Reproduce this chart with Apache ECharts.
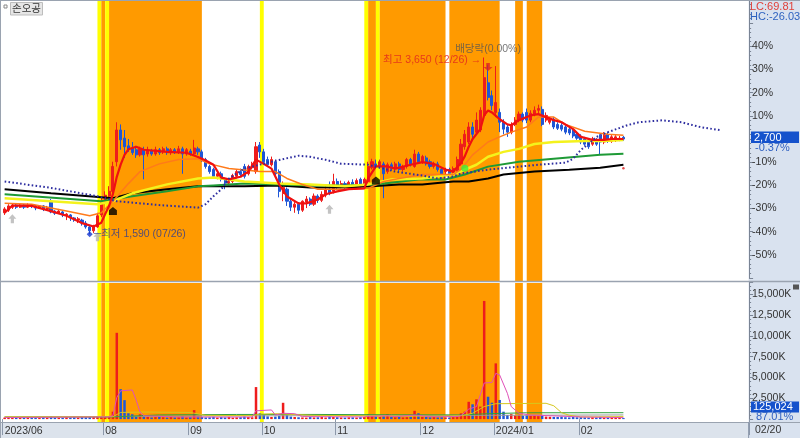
<!DOCTYPE html>
<html><head><meta charset="utf-8">
<script src="https://cdn.jsdelivr.net/npm/echarts/dist/echarts.min.js"></script>
<style>html,body{margin:0;padding:0;background:#fff}#c{width:800px;height:438px}</style>
</head><body><div id="c"></div>
<script>
// ---------- DATA ----------
const holidays = ['2023-08-15','2023-09-28','2023-09-29','2023-10-02','2023-10-03','2023-10-09','2023-12-25','2023-12-29','2024-01-01','2024-02-09','2024-02-12'];
const firstDay = '2023-06-26', lastDay = '2024-02-20';
const futureSlots = 32;
const monthTicks = [[0,'2023/06'],[26,'08'],[48,'09'],[67,'10'],[86,'11'],[108,'12'],[127,'2024/01'],[149,'02']];
const basePrice = 2700;
// [open, close, low, high]
const candles = [
[1840,1885,1815,1905],[1870,1920,1850,1940],[1905,1930,1885,1950],[1930,1905,1885,1950],[1905,1930,1895,1940],
[1930,1905,1885,1940],[1905,1930,1895,1950],[1930,1920,1895,1940],[1920,1895,1870,1930],[1895,1920,1885,1930],
[1920,1885,1860,1930],[1885,1905,1870,1920],[1975,1850,1835,2000],[1860,1835,1815,1870],[1835,1860,1825,1885],
[1850,1815,1790,1860],[1815,1825,1755,1835],[1815,1780,1745,1825],[1780,1755,1735,1790],[1755,1770,1720,1790],
[1755,1720,1690,1770],[1720,1675,1655,1745],[1675,1630,1590,1700],[1630,1675,1605,1700],[1675,1805,1665,1840],
[1815,1975,1790,2010],[1975,2045,1965,2090],[2035,2090,2010,2150],[2090,2380,2065,2435],[2435,2805,2380,2895],
[2805,2690,2575,2870],[2710,2610,2480,2805],[2620,2575,2550,2700],[2595,2540,2515,2665],[2575,2515,2480,2620],
[2515,2585,2495,2610],[2575,2515,2230,2610],[2525,2575,2495,2610],[2560,2525,2505,2585],[2525,2575,2505,2610],
[2575,2540,2515,2595],[2550,2585,2525,2610],[2585,2540,2515,2610],[2540,2575,2515,2595],[2575,2550,2525,2595],
[2550,2585,2525,2620],[2585,2525,2295,2610],[2525,2575,2505,2595],[2560,2525,2505,2585],[2525,2595,2505,2690],
[2585,2550,2515,2610],[2550,2460,2435,2575],[2460,2380,2355,2480],[2380,2320,2295,2400],[2345,2265,2240,2365],
[2265,2295,2230,2320],[2295,2230,2205,2320],[2230,2185,2115,2250],[2185,2205,2160,2240],[2205,2275,2185,2295],
[2265,2320,2240,2345],[2320,2285,2265,2355],[2380,2265,2240,2410],[2295,2380,2275,2400],[2365,2410,2345,2435],
[2320,2610,2295,2665],[2630,2550,2480,2665],[2550,2435,2400,2585],[2460,2400,2380,2495],[2400,2460,2380,2495],
[2435,2295,2275,2460],[2320,2090,2020,2345],[2065,2135,1975,2205],[2115,1975,1920,2135],[1975,1905,1860,2000],
[1905,1940,1840,1965],[1940,1870,1825,1965],[1870,1975,1850,1985],[1965,2000,1895,2035],[2000,1940,1920,2020],
[1940,2035,1920,2065],[2035,1985,1955,2055],[1985,2055,1965,2090],[2045,2115,2020,2150],[2115,2065,2045,2205],
[2090,2205,2065,2295],[2205,2150,2115,2240],[2150,2180,2125,2215],[2180,2135,2115,2205],[2135,2195,2115,2215],
[2195,2160,2135,2230],[2160,2215,2135,2240],[2230,2160,2135,2250],[2170,2230,2150,2250],[2205,2380,2180,2435],
[2365,2435,2345,2470],[2410,2380,2355,2460],[2380,2435,2355,2460],[2410,2295,2010,2435],[2320,2400,2295,2425],
[2400,2355,2330,2425],[2355,2410,2330,2435],[2410,2345,2320,2435],[2345,2380,2320,2400],[2380,2460,2355,2480],
[2460,2400,2380,2480],[2380,2525,2365,2575],[2525,2435,2410,2550],[2435,2495,2410,2515],[2480,2410,2390,2505],
[2435,2380,2355,2460],[2380,2410,2355,2435],[2410,2345,2320,2435],[2345,2295,2240,2365],[2320,2345,2285,2365],
[2345,2295,2275,2365],[2295,2355,2275,2380],[2320,2460,2295,2495],[2410,2640,2390,2700],[2610,2755,2575,2805],
[2665,2840,2640,2895],[2840,2755,2710,2895],[2780,2920,2755,3010],[2805,3035,2780,3070],[2975,3415,2955,3650],
[3355,3185,3150,3565],[3205,3090,3035,3265],[3010,3125,2955,3550],[3010,2895,2780,3055],[2895,2815,2755,2930],
[2840,2780,2725,2870],[2780,2870,2755,2895],[2870,2920,2850,2955],[2920,2990,2895,3020],[2990,2920,2895,3010],
[3010,2920,2885,3055],[2920,3000,2895,3035],[2990,3035,2965,3080],[3035,3055,3000,3100],[3045,2870,2850,3080],
[2920,2975,2895,3010],[2895,2930,2870,2955],[2930,2840,2815,2955],[2870,2825,2805,2895],[2860,2815,2790,2885],
[2840,2780,2755,2860],[2815,2770,2745,2840],[2805,2735,2710,2825],[2755,2710,2690,2780],[2735,2665,2640,2755],
[2700,2640,2620,2725],[2675,2610,2585,2700],[2640,2700,2620,2725],[2690,2640,2620,2710],[2735,2665,2525,2755],
[2665,2745,2640,2780],[2755,2675,2655,2780],[2675,2725,2655,2745],[2690,2725,2665,2745],[2700,2710,2675,2735],
[2720,2700,2680,2735]
];
// volume in thousands of shares
const volumes = [
180,220,160,200,150,170,230,190,210,160,250,200,370,210,180,160,250,200,230,190,260,240,300,260,350,
370,300,290,890,10370,3600,2280,700,580,290,580,300,260,200,240,310,220,180,260,200,230,330,210,240,
1080,300,250,200,220,280,190,240,200,260,180,210,230,300,250,220,3850,700,500,330,260,300,400,1960,490,
300,250,220,200,180,240,200,220,260,190,300,250,230,200,180,220,210,190,230,260,580,400,300,250,350,610,
280,220,250,200,230,260,1000,700,300,260,220,250,200,230,210,190,240,350,700,890,2080,1780,2380,1500,
14200,2690,1970,6700,2300,890,490,600,450,520,400,450,380,420,350,500,300,280,260,250,300,230,200,260,
220,240,210,190,230,200,260,180,170,200,150,140,125
];
// moving averages: [slot, price]
const ma5 = [[0,1840],[2,1925],[7,1920],[12,1860],[16,1805],[20,1720],[23,1680],[25,1725],[26,1826],[27,1918],[28,2059],[29,2259],[30,2402],[31,2515],[32,2580],[34,2610],[36,2575],[42,2550],[47,2540],[50,2490],[52,2450],[54,2400],[56,2250],[58,2230],[61,2260],[63,2320],[65,2460],[67,2410],[69,2355],[71,2170],[73,2030],[76,1950],[78,1950],[81,1995],[83,2056],[86,2090],[89,2115],[93,2125],[94,2240],[96,2380],[99,2380],[101,2355],[105,2400],[108,2430],[111,2410],[114,2345],[116,2320],[118,2420],[119,2500],[120,2610],[121,2700],[123,2815],[124,2976],[125,3033],[126,3010],[128,2930],[130,2870],[131,2860],[133,2920],[136,2975],[138,2990],[140,2955],[142,2920],[144,2895],[147,2815],[149,2725],[152,2690],[155,2690],[157,2700],[160,2700]];
const ma20 = [[0,1950],[7,1940],[16,1860],[22,1805],[25,1840],[28,1975],[32,2180],[35,2320],[40,2410],[45,2460],[50,2470],[53,2410],[58,2355],[66,2320],[70,2320],[73,2240],[77,2170],[81,2115],[89,2115],[94,2125],[98,2205],[102,2240],[108,2285],[116,2285],[118,2345],[121,2515],[125,2665],[128,2725],[131,2780],[135,2840],[138,2955],[142,2955],[145,2870],[150,2790],[156,2755],[160,2745]];
const ma60 = [[0,2010],[12,1975],[24,1940],[28,1975],[33,2067],[42,2171],[50,2240],[54,2250],[62,2205],[71,2182],[79,2171],[88,2148],[94,2171],[100,2228],[108,2240],[116,2286],[122,2400],[125,2493],[129,2550],[133,2585],[137,2642],[142,2665],[150,2677],[155,2677],[160,2688]];
const ma120 = [[0,2056],[25,1975],[28,1998],[33,2033],[42,2090],[50,2148],[54,2159],[62,2182],[71,2171],[79,2159],[88,2159],[96,2171],[107,2228],[114,2228],[119,2286],[125,2378],[133,2435],[142,2470],[148,2493],[154,2516],[160,2527]];
const ma240 = [[0,2113],[12,2067],[25,2021],[28,2010],[33,2067],[42,2113],[50,2148],[62,2148],[71,2159],[79,2136],[88,2136],[95,2148],[102,2171],[108,2171],[116,2205],[120,2205],[125,2240],[129,2286],[137,2320],[146,2343],[154,2366],[160,2400]];
const leadSpan = [[0,2205],[12,2130],[24,2033],[29,1975],[40,1930],[50,1900],[52,1941],[54,2033],[56,2113],[58,2240],[62,2355],[69,2436],[76,2505],[79,2493],[83,2458],[87,2412],[94,2400],[101,2320],[108,2274],[112,2240],[116,2263],[118,2297],[125,2343],[133,2378],[138,2400],[145,2424],[147,2470],[149,2573],[151,2642],[153,2723],[156,2780],[161,2861],[164,2895],[170,2918],[175,2895],[180,2838],[185,2803]];
const volMa5 = [[0,200],[27,260],[28,420],[29,2600],[30,3400],[33,3500],[34,2300],[35,850],[36,400],[45,250],[64,250],[65,1000],[69,1100],[70,500],[72,700],[75,650],[77,300],[93,260],[94,330],[99,400],[101,300],[106,480],[108,400],[110,280],[117,300],[118,420],[119,800],[120,1200],[122,1500],[124,4340],[126,4400],[127,5500],[128,5300],[130,3100],[131,1500],[133,700],[136,480],[140,420],[149,260],[160,180]];
const volMa20 = [[0,280],[28,290],[30,800],[36,850],[48,800],[52,450],[64,420],[66,600],[70,650],[80,450],[110,350],[118,400],[121,700],[124,1500],[127,1850],[140,1900],[142,1600],[144,770],[146,460],[149,260],[160,300]];
const volMa60 = [[0,250],[28,260],[40,500],[60,560],[80,560],[100,520],[118,500],[125,650],[135,760],[160,770]];
const volMa120 = [[0,230],[50,380],[100,430],[130,460],[160,500]];
// highlighted signal periods [fromSlot, toSlot, kind]
const signalBands = [[24,25,'Y'],[25,26,'O'],[26,27,'Y'],[27,51,'O'],[66,67,'Y'],[93,94,'Y'],[94,96,'O'],[96,97,'Y'],[97,114,'O'],[115,128,'O'],[132,134,'O'],[135,139,'O']];
const grayArrows = [[2,1770],[24,1560],[84,1880]];
const blackMarks = [[28,1860],[96,2215]];
const greenMarks = [[119,2358]];
const lowPoint = [[22,1590]];
const highPoint = [[124,3650]];
const exDividend = [[125,3540]];
const redDot = [[160,2358]];

// ---------- BUILD ----------
const cats = [];
(function(){
  let d = new Date(firstDay+'T00:00:00Z'); const end = new Date(lastDay+'T00:00:00Z');
  while (d <= end) {
    const s = d.toISOString().slice(0,10); const wd = d.getUTCDay();
    if (wd !== 0 && wd !== 6 && holidays.indexOf(s) < 0) cats.push(s);
    d = new Date(d.getTime()+86400000);
  }
  for (let i=1;i<=futureSlots;i++) cats.push('f'+i);
})();
const tickMap = {}; monthTicks.forEach(t => tickMap[t[0]] = t[1]);
const FONT = "'Liberation Sans',Arial,sans-serif";
const KFONT = "'Liberation Sans','Noto Sans CJK KR',sans-serif";
const UP = '#EE1C1C', DOWN = '#1F56D6';
const GL = 2.7, GR = 50.9;

const bandColor = {O:'#FF9A00', Y:'#FFFF00'};
const bandAreas = signalBands.map(b => [{xAxis:b[0], itemStyle:{color:bandColor[b[2]], opacity:1}}, {xAxis:b[1]}]);

function hiddenX(g){ return {type:'category', gridIndex:g, data:cats, boundaryGap:true, show:false}; }
function lineS(name, data, color, width, extra){
  return Object.assign({name, type:'line', xAxisIndex:0, yAxisIndex:0, data, showSymbol:false, symbol:'none',
    lineStyle:{color, width}, z:6, silent:true}, extra||{});
}
function volLine(data, color){
  return {type:'line', xAxisIndex:1, yAxisIndex:1, data, showSymbol:false, symbol:'none', lineStyle:{color, width:1}, z:6, silent:true};
}

const chart = echarts.init(document.getElementById('c'), null, {renderer:'canvas'});
const option = {
  animation:false,
  backgroundColor:'#ffffff',
  grid:[
    {left:GL, right:GR, top:-3.5, height:281.5},
    {left:GL, right:GR, top:281.8, height:139.9},
    {left:GL, right:GR, top:281.8, height:137.3},
    {left:GL, right:GR, top:0, height:281},
    {left:GL, right:GR, top:283, height:139}
  ],
  xAxis:[
    hiddenX(0),
    {type:'category', gridIndex:1, data:cats, boundaryGap:true,
     axisLine:{show:false},
     axisTick:{show:true, interval:(i)=> tickMap[i]!==undefined, length:16, lineStyle:{color:'#8C98AA'}},
     axisLabel:{show:true, interval:(i)=> tickMap[i]!==undefined, formatter:(v,i)=> tickMap[i]||'', align:'left', margin:4,
       color:'#333', fontSize:10.5, fontFamily:FONT}},
    hiddenX(2), hiddenX(3), hiddenX(4)
  ],
  yAxis:[
    {type:'value', gridIndex:0, position:'right', min:basePrice*0.4, max:basePrice*1.6, interval:basePrice*0.1,
     splitLine:{show:false}, axisLine:{show:true, lineStyle:{color:'#7A8494'}},
     axisTick:{show:true, length:4, lineStyle:{color:'#7A8494'}},
     minorTick:{show:true, splitNumber:5, length:2, lineStyle:{color:'#7A8494'}},
     axisLabel:{margin:3, color:'#333', fontSize:10.5, fontFamily:FONT,
       formatter:(v)=>{ const p=Math.round((v/basePrice-1)*100); if (p===0||p>=50||p<=-60) return ''; return p+'%'; }}},
    {type:'value', gridIndex:1, min:-312, max:16500, show:false, splitLine:{show:false}},
    {type:'value', gridIndex:2, position:'right', min:0, max:16500, interval:2500,
     splitLine:{show:false}, axisLine:{show:true, lineStyle:{color:'#7A8494'}},
     axisTick:{show:true, length:4, lineStyle:{color:'#7A8494'}},
     minorTick:{show:true, splitNumber:5, length:2, lineStyle:{color:'#7A8494'}},
     axisLabel:{margin:3, color:'#333', fontSize:10.5, fontFamily:FONT, showMaxLabel:false, showMinLabel:false,
       formatter:(v)=> v.toLocaleString('en-US')+'K'}},
    {type:'value', gridIndex:3, min:0, max:1, show:false},
    {type:'value', gridIndex:4, min:0, max:1, show:false}
  ],
  series:[
    {type:'line', xAxisIndex:3, yAxisIndex:3, data:[null], symbol:'none', silent:true, z:0,
     markArea:{silent:true, data:bandAreas}},
    {type:'line', xAxisIndex:4, yAxisIndex:4, data:[null], symbol:'none', silent:true, z:0,
     markArea:{silent:true, data:bandAreas}},
    {name:'price', type:'candlestick', xAxisIndex:0, yAxisIndex:0, data:candles, barWidth:2.6, z:4,
     itemStyle:{color:UP, color0:DOWN, borderColor:UP, borderColor0:DOWN, borderWidth:1}},
    lineS('ma240', ma240, '#000000', 2),
    lineS('ma120', ma120, '#1E9A36', 2),
    lineS('ma60', ma60, '#F4F21C', 2.5),
    lineS('ma20', ma20, '#FF7A1A', 1.5),
    lineS('ma5', ma5, '#F01010', 2.2),
    lineS('lead', leadSpan, '#2E2EA0', 2, {lineStyle:{color:'#2E2EA0', width:2, type:[1.6,2.3]}}),
    {type:'scatter', xAxisIndex:0, yAxisIndex:0, data:grayArrows, z:8, silent:true,
     symbol:'path://M5,0 L10,5 L7,5 L7,10 L3,10 L3,5 L0,5 Z', symbolSize:[8,9], itemStyle:{color:'#B4B4B4'}},
    {type:'scatter', xAxisIndex:0, yAxisIndex:0, data:blackMarks, z:8, silent:true,
     symbol:'path://M5,0 L10,4 L10,10 L0,10 L0,4 Z', symbolSize:[8,8], itemStyle:{color:'#000'}},
    {type:'scatter', xAxisIndex:0, yAxisIndex:0, data:greenMarks, z:8, silent:true,
     symbol:'circle', symbolSize:7, itemStyle:{color:'#3CF03C'}},
    {type:'scatter', xAxisIndex:0, yAxisIndex:0, data:redDot, z:8, silent:true,
     symbol:'circle', symbolSize:2.5, itemStyle:{color:'#E02020'}},
    {type:'scatter', xAxisIndex:0, yAxisIndex:0, data:lowPoint, z:9, silent:true,
     symbol:'diamond', symbolSize:6, itemStyle:{color:'#1434D0'},
     label:{show:true, position:'right', distance:1, formatter:'─최저 1,590 (07/26)', color:'#2A3A90', fontSize:10.5, fontFamily:KFONT}},
    {type:'scatter', xAxisIndex:0, yAxisIndex:0, data:highPoint, z:9, silent:true,
     symbol:'circle', symbolSize:0,
     label:{show:true, position:'left', distance:3, offset:[0,3], formatter:'최고 3,650 (12/26) →', color:'#E02020', fontSize:10.5, fontFamily:KFONT}},
    {type:'scatter', xAxisIndex:0, yAxisIndex:0, data:exDividend, z:9, silent:true,
     symbol:'path://M3,0 L7,0 L7,5 L10,5 L5,10 L0,5 L3,5 Z', symbolSize:[9,8], itemStyle:{color:'#E02020'},
     label:{show:true, position:'top', distance:9, formatter:'배당락(0.00%)', color:'#555', fontSize:10.5, fontFamily:KFONT}},
    {name:'volume', type:'bar', xAxisIndex:1, yAxisIndex:1, barWidth:2.5, z:4, silent:true,
     data: volumes.map((v,i)=>({value:v, itemStyle:{color: candles[i][1]>=candles[i][0]?UP:DOWN}}))},
    volLine(volMa120, '#9A9A9A'),
    volLine(volMa60, '#2E9E3E'),
    volLine(volMa20, '#D6C81E'),
    volLine(volMa5, '#E050B8')
  ],
  graphic:[
    {type:'rect', z:-10, shape:{x:748.6, y:0, width:52, height:438}, style:{fill:'#D9E2EF'}},
    {type:'rect', z:-10, shape:{x:0, y:422, width:749, height:16}, style:{fill:'#DCE3EC'}},
    {type:'line', z:50, shape:{x1:0, y1:281.5, x2:800, y2:281.5}, style:{stroke:'#9AA3B0', lineWidth:1.5}},
    {type:'line', z:50, shape:{x1:0, y1:422.5, x2:800, y2:422.5}, style:{stroke:'#9AA3B0', lineWidth:1}},
    {type:'line', z:50, shape:{x1:748.6, y1:422, x2:748.6, y2:438}, style:{stroke:'#8C98AA', lineWidth:1}},
    {type:'line', z:50, shape:{x1:0.5, y1:0, x2:0.5, y2:438}, style:{stroke:'#9AA3B0', lineWidth:1}},
    {type:'line', z:50, shape:{x1:0, y1:0.5, x2:800, y2:0.5}, style:{stroke:'#9AA3B0', lineWidth:1}},
    {type:'rect', z:50, shape:{x:4, y:5, width:3, height:3}, style:{fill:'#fff', stroke:'#888', lineWidth:1}},
    {type:'rect', z:50, shape:{x:10.5, y:2.5, width:32, height:12.5}, style:{fill:'#E6E6E6', stroke:'#BDBDBD', lineWidth:1}},
    {type:'text', z:51, style:{text:'손오공', x:26.5, y:9, textAlign:'center', textVerticalAlign:'middle', fill:'#333', font:'10.5px '+KFONT}},
    {type:'text', z:51, style:{text:'LC:69.81', x:750, y:6.5, textVerticalAlign:'middle', fill:'#E0403A', font:'11px '+FONT}},
    {type:'text', z:51, style:{text:'HC:-26.03', x:750, y:16.5, textVerticalAlign:'middle', fill:'#2F63C0', font:'11px '+FONT}},
    {type:'rect', z:50, shape:{x:751, y:131.5, width:48, height:11.5}, style:{fill:'#1552CC'}},
    {type:'text', z:51, style:{text:'2,700', x:754, y:137.5, textVerticalAlign:'middle', fill:'#fff', font:'11px '+FONT}},
    {type:'text', z:51, style:{text:'-0.37%', x:755, y:147.5, textVerticalAlign:'middle', fill:'#2E5FC0', font:'11px '+FONT}},
    {type:'rect', z:50, shape:{x:751, y:401.5, width:48, height:11}, style:{fill:'#1552CC'}},
    {type:'text', z:51, style:{text:'125,024', x:753, y:407, textVerticalAlign:'middle', fill:'#fff', font:'11px '+FONT}},
    {type:'text', z:51, style:{text:'87.01%', x:756, y:417, textVerticalAlign:'middle', fill:'#2E5FC0', font:'11px '+FONT}},
    {type:'text', z:51, style:{text:'02/20', x:755, y:430.5, textVerticalAlign:'middle', fill:'#333', font:'10.5px '+FONT}},
    {type:'rect', z:50, shape:{x:793, y:284.5, width:6, height:5}, style:{fill:'#555'}}
  ]
};
chart.setOption(option);
</script></body></html>
